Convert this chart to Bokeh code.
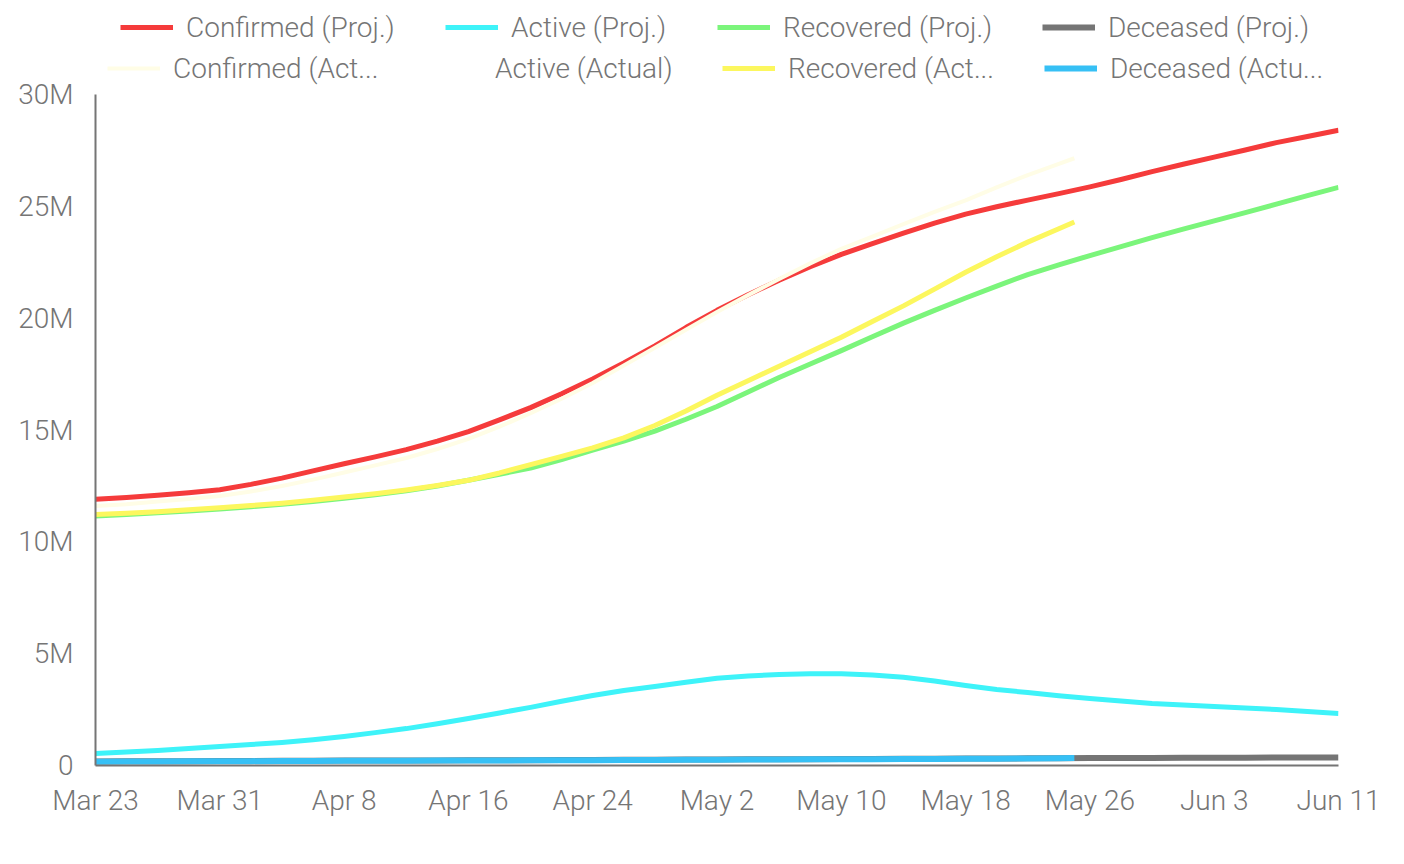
from bokeh.plotting import figure
from bokeh.models import Legend, LegendItem, FixedTicker
from bokeh.embed import file_html
from bokeh.resources import INLINE

# x positions: days since Mar 23 (2020)
proj_days = list(range(0, 81, 2))
act_days = list(range(0, 63, 2)) + [63]
tick_days = list(range(0, 81, 8))
tick_labels = ["Mar 23", "Mar 31", "Apr 8", "Apr 16", "Apr 24", "May 2",
               "May 10", "May 18", "May 26", "Jun 3", "Jun 11"]
y_ticks = [0, 5, 10, 15, 20, 25, 30]
y_labels = ["0", "5M", "10M", "15M", "20M", "25M", "30M"]

# values in millions
confirmed_proj = [11.9, 11.98, 12.08, 12.19, 12.33, 12.57, 12.85, 13.17, 13.49, 13.8,
                  14.12, 14.5, 14.93, 15.45, 16.0, 16.62, 17.28, 18.0, 18.76, 19.58,
                  20.35, 21.05, 21.7, 22.3, 22.85, 23.33, 23.8, 24.25, 24.65, 24.98,
                  25.28, 25.57, 25.87, 26.2, 26.55, 26.88, 27.2, 27.52, 27.85, 28.12,
                  28.4]
active_proj = [0.54, 0.6, 0.67, 0.76, 0.85, 0.94, 1.03, 1.15, 1.3, 1.47,
               1.65, 1.87, 2.1, 2.35, 2.6, 2.87, 3.13, 3.35, 3.53, 3.72,
               3.9, 4.0, 4.07, 4.1, 4.1, 4.05, 3.95, 3.78, 3.58, 3.4,
               3.26, 3.12, 3.0, 2.88, 2.77, 2.7, 2.64, 2.57, 2.5, 2.41,
               2.32]
recovered_proj = [11.15, 11.22, 11.3, 11.38, 11.47, 11.57, 11.68, 11.8, 11.95, 12.1,
                  12.28, 12.5, 12.75, 13.02, 13.3, 13.68, 14.1, 14.5, 14.95, 15.48,
                  16.05, 16.7, 17.35, 17.95, 18.55, 19.17, 19.78, 20.35, 20.9, 21.43,
                  21.95, 22.38, 22.8, 23.2, 23.6, 23.98, 24.35, 24.72, 25.1, 25.48,
                  25.85]
deceased_proj = [0.18, 0.185, 0.19, 0.195, 0.2, 0.205, 0.21, 0.215, 0.22, 0.222,
                 0.225, 0.228, 0.23, 0.235, 0.24, 0.245, 0.25, 0.255, 0.26, 0.265,
                 0.27, 0.275, 0.28, 0.285, 0.29, 0.295, 0.30, 0.305, 0.31, 0.315,
                 0.32, 0.325, 0.33, 0.335, 0.34, 0.345, 0.35, 0.352, 0.355, 0.357,
                 0.36]

confirmed_act = [11.6, 11.68, 11.8, 11.92, 12.05, 12.25, 12.5, 12.78, 13.1, 13.42,
                 13.75, 14.15, 14.6, 15.15, 15.75, 16.4, 17.1, 17.88, 18.68, 19.48,
                 20.28, 21.03, 21.75, 22.45, 23.1, 23.65, 24.2, 24.75, 25.27, 25.85,
                 26.4, 26.9, 27.15]
active_act = [0.5, 0.57, 0.64, 0.73, 0.82, 0.91, 1.0, 1.12, 1.27, 1.44,
              1.62, 1.84, 2.06, 2.31, 2.56, 2.83, 3.1, 3.32, 3.5, 3.69,
              3.87, 3.97, 4.04, 4.07, 4.08, 4.02, 3.93, 3.76, 3.56, 3.38,
              3.25, 3.1, 3.05]
recovered_act = [11.22, 11.28, 11.35, 11.43, 11.52, 11.62, 11.73, 11.86, 12.0, 12.15,
                 12.32, 12.52, 12.75, 13.08, 13.45, 13.82, 14.2, 14.65, 15.2, 15.85,
                 16.55, 17.2, 17.85, 18.5, 19.15, 19.85, 20.55, 21.3, 22.05, 22.75,
                 23.4, 24.0, 24.3]
deceased_act = [0.17, 0.175, 0.18, 0.185, 0.19, 0.195, 0.2, 0.205, 0.21, 0.212,
                0.215, 0.218, 0.22, 0.225, 0.23, 0.235, 0.24, 0.245, 0.25, 0.255,
                0.26, 0.265, 0.27, 0.275, 0.28, 0.285, 0.29, 0.295, 0.30, 0.305,
                0.31, 0.32, 0.33]

FONT = "Roboto Light"
GREY = "#757575"
Y_TOP = 30 * 765 / 671  # extra room above 30M inside the frame for the legend

p = figure(width=1390, height=845, output_backend="svg", toolbar_location=None,
           x_range=(0, 80), y_range=(0, Y_TOP),
           min_border_left=95, min_border_right=52, min_border_top=0, min_border_bottom=80)
p.outline_line_color = None
p.grid.visible = False
p.background_fill_color = "white"

for ax in (p.xaxis[0], p.yaxis[0]):
    ax.axis_line_color = GREY
    ax.axis_line_width = 2
    ax.major_tick_line_color = None
    ax.minor_tick_line_color = None
    ax.major_tick_in = 0
    ax.major_tick_out = 0
    ax.major_label_text_font = FONT
    ax.major_label_text_font_size = "28px"
    ax.major_label_text_color = GREY

p.xaxis.ticker = FixedTicker(ticks=tick_days)
p.xaxis.major_label_overrides = {d: l for d, l in zip(tick_days, tick_labels)}
p.xaxis.major_label_standoff = 18
p.yaxis.ticker = FixedTicker(ticks=y_ticks)
p.yaxis.bounds = (0, 30)
p.yaxis.major_label_standoff = 22
p.yaxis.major_label_overrides = {t: l for t, l in zip(y_ticks, y_labels)}

kw = dict(line_join="round", line_cap="butt")
# white (invisible) active actual drawn first so it doesn't cover the cyan line
r_aa = p.line(act_days, active_act, line_color="white", line_width=4, **kw)
r_cp = p.line(proj_days, confirmed_proj, line_color="#F53B3B", line_width=5, **kw)
r_ap = p.line(proj_days, active_proj, line_color="#3EF3F9", line_width=5, **kw)
r_rp = p.line(proj_days, recovered_proj, line_color="#7BF57B", line_width=5, **kw)
r_dp = p.line(proj_days, deceased_proj, line_color=GREY, line_width=6, **kw)
r_ca = p.line(act_days, confirmed_act, line_color="#FFFDE6", line_width=4, **kw)
r_ra = p.line(act_days, recovered_act, line_color="#FCF75E", line_width=5, **kw)
r_da = p.line(act_days, deceased_act, line_color="#36C0F5", line_width=6, **kw)

items = [
    ("Confirmed (Proj.)", r_cp, 25, 721),
    ("Active (Proj.)", r_ap, 350, 721),
    ("Recovered (Proj.)", r_rp, 622, 721),
    ("Deceased (Proj.)", r_dp, 947, 721),
    ("Confirmed (Act...", r_ca, 12, 680),
    ("Active (Actual)", r_aa, 334, 680),
    ("Recovered (Act...", r_ra, 627, 680),
    ("Deceased (Actu...", r_da, 949, 680),
]
for label, r, x, y in items:
    lg = Legend(items=[LegendItem(label=label, renderers=[r])], location=(x, y),
                orientation="horizontal", glyph_width=53, glyph_height=34,
                label_standoff=13, padding=0, margin=0, spacing=0,
                border_line_color=None, background_fill_alpha=0,
                label_text_font=FONT, label_text_font_size="28px",
                label_text_color=GREY, label_height=34)
    p.add_layout(lg, "center")

open("out.html", "w").write(file_html(p, INLINE))
